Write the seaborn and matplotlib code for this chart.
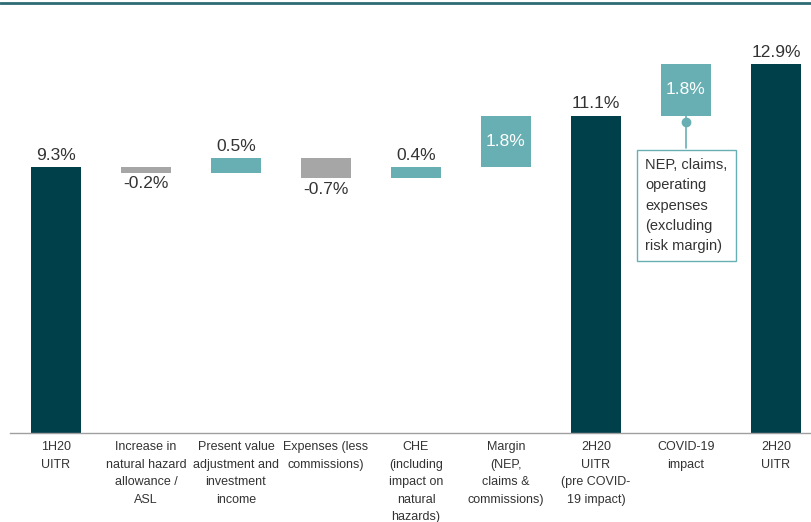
import numpy as np
import matplotlib
matplotlib.use("Agg")
import matplotlib.pyplot as plt
import seaborn as sns

# data
categories = ["1H20\nUITR", "Increase in\nnatural hazard\nallowance /\nASL",
              "Present value\nadjustment and\ninvestment\nincome",
              "Expenses (less\ncommissions)",
              "CHE\n(including\nimpact on\nnatural\nhazards)",
              "Margin\n(NEP,\nclaims &\ncommissions)",
              "2H20\nUITR\n(pre COVID-\n19 impact)",
              "COVID-19\nimpact", "2H20\nUITR"]
values = [9.3, -0.2, 0.5, -0.7, 0.4, 1.8, 11.1, 1.8, 12.9]
kinds = ["total", "step", "step", "step", "step", "step", "total", "step", "total"]
labels = ["9.3%", "-0.2%", "0.5%", "-0.7%", "0.4%", "1.8%", "11.1%", "1.8%", "12.9%"]
inside_label = [False, False, False, False, False, True, False, True, False]
note_text = "NEP, claims,\noperating\nexpenses\n(excluding\nrisk margin)"

DARK = "#00404A"
LIGHT = "#68AFB3"
GREY = "#A6A6A6"
TXT = "#333333"

# waterfall bottoms / heights
bottoms, heights, colors = [], [], []
level = 0.0
for v, k in zip(values, kinds):
    if k == "total":
        bottoms.append(0.0)
        heights.append(v)
        colors.append(DARK)
        level = v
    else:
        if v >= 0:
            bottoms.append(level)
            colors.append(LIGHT)
        else:
            bottoms.append(level + v)
            colors.append(GREY)
        heights.append(abs(v))
        level = level + v

sns.set_theme(style="white")
plt.rcParams["font.family"] = ["Liberation Sans", "DejaVu Sans"]

fig = plt.figure(figsize=(8.12, 5.22), dpi=100)
ax = fig.add_axes([0, 89 / 522, 1, 433 / 522])

sns.barplot(x=list(range(len(values))), y=heights, bottom=bottoms,
            color=DARK, saturation=1, width=0.55, ax=ax)
for p, c in zip(ax.patches, colors):
    p.set_facecolor(c)
    p.set_edgecolor("none")

px = 433 / 28.6
ax.set_ylim(0, px)
ax.set_xlim(-56 / 90, (812 - 56) / 90)

# value labels
for i, (b, h, v, lab) in enumerate(zip(bottoms, heights, values, labels)):
    if inside_label[i]:
        ax.text(i, b + h / 2, lab, ha="center", va="center",
                color="white", fontsize=12.5)
    elif v >= 0:
        ax.text(i, b + h + 0.15, lab, ha="center", va="bottom",
                color=TXT, fontsize=12.5)
    else:
        ax.text(i, b - 0.12, lab, ha="center", va="top",
                color=TXT, fontsize=12.5)

# callout for COVID-19 bar
ci = 7
cb = bottoms[ci]
ax.plot([ci, ci], [cb, cb - 1.15], color=LIGHT, lw=1.2)
ax.plot([ci], [cb - 0.22], "o", color=LIGHT, ms=6)
ax.text(ci - 0.45, cb - 1.5, note_text, ha="left", va="top",
        color=TXT, fontsize=10.5, linespacing=1.55,
        bbox=dict(boxstyle="square,pad=0.55", fc="white", ec=LIGHT, lw=1))

# axes styling
ax.set_xticks(range(len(categories)))
ax.set_xticklabels(categories, fontsize=9, color=TXT, linespacing=1.6,
                   va="top")
ax.tick_params(axis="x", length=0, pad=6)
ax.set_yticks([])
for s in ["left", "right", "top"]:
    ax.spines[s].set_visible(False)
ax.spines["bottom"].set_color("#A0A0A0")
ax.spines["bottom"].set_linewidth(1)
ax.spines["bottom"].set_bounds(-0.51, (812 - 56) / 90)

# top rule
fig.add_artist(plt.Line2D([0, 1], [1 - 3 / 522, 1 - 3 / 522],
                          color="#2E6B74", lw=2))

fig.savefig("out.png", dpi=100)
